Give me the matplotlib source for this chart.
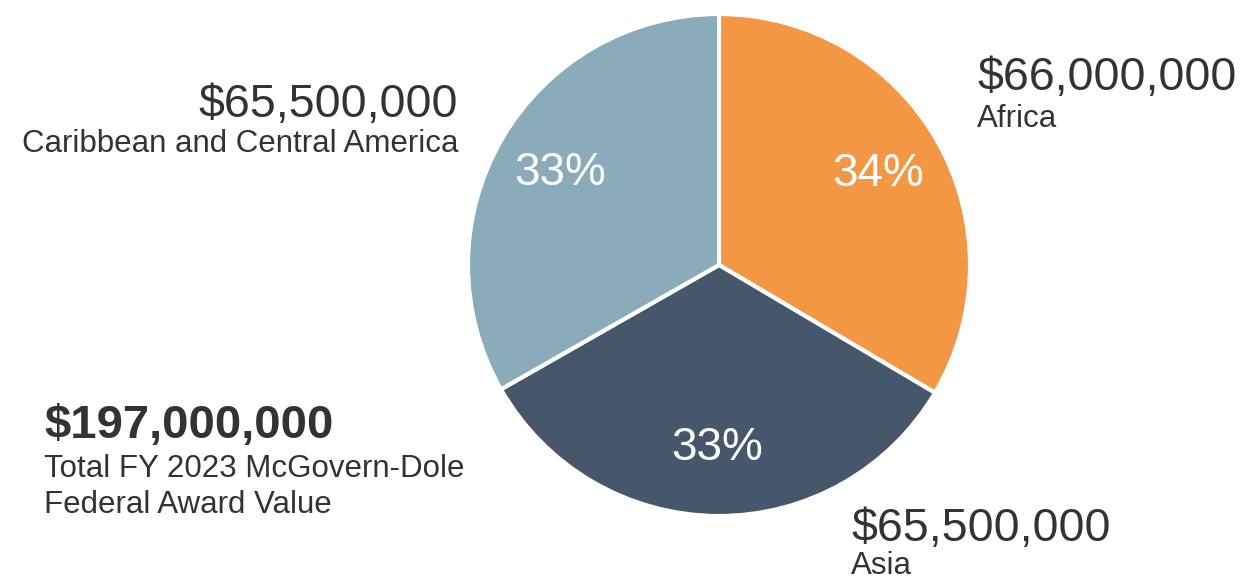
import matplotlib
matplotlib.use("Agg")
import matplotlib.pyplot as plt

regions = ["Africa", "Asia", "Caribbean and Central America"]
values = [66000000, 65500000, 65500000]
colors = ["#F39745", "#46576B", "#89ABBA"]
total_label = "$197,000,000"
total_desc = ["Total FY 2023 McGovern-Dole", "Federal Award Value"]

plt.rcParams['font.family'] = ['Liberation Sans', 'DejaVu Sans']
W, H = 1244, 582
fig = plt.figure(figsize=(W/100, H/100), dpi=100)
ax = fig.add_axes([0, 0, 1, 1])

wedges, texts, autotexts = ax.pie(values, colors=colors, startangle=90, counterclock=False,
       center=(719, H-265), radius=251, autopct='%.0f%%', pctdistance=0.73,
       wedgeprops=dict(edgecolor='white', linewidth=3),
       textprops=dict(color='white', fontsize=33), frame=True)
ax.set_xlim(0, W)
ax.set_ylim(0, H)
ax.set_aspect('equal')
ax.axis('off')

tc = '#333333'
def money(v):
    return "${:,.0f}".format(v)

big = 33.5
small = 22.5
# Africa
ax.text(977, H-90, money(values[0]), fontsize=big, color=tc, ha='left', va='baseline')
ax.text(977, H-127, regions[0], fontsize=small, color=tc, ha='left', va='baseline')
# Asia
ax.text(851, H-541, money(values[1]), fontsize=big, color=tc, ha='left', va='baseline')
ax.text(851, H-574, regions[1], fontsize=small, color=tc, ha='left', va='baseline')
# Caribbean
ax.text(458, H-117, money(values[2]), fontsize=big, color=tc, ha='right', va='baseline')
ax.text(458, H-152, regions[2], fontsize=small, color=tc, ha='right', va='baseline')
# Total
ax.text(44, H-438, total_label, fontsize=34, fontweight='bold', color=tc, ha='left', va='baseline')
ax.text(44, H-477, total_desc[0], fontsize=small, color=tc, ha='left', va='baseline')
ax.text(44, H-513, total_desc[1], fontsize=small, color=tc, ha='left', va='baseline')

fig.savefig('out.png', dpi=100)
